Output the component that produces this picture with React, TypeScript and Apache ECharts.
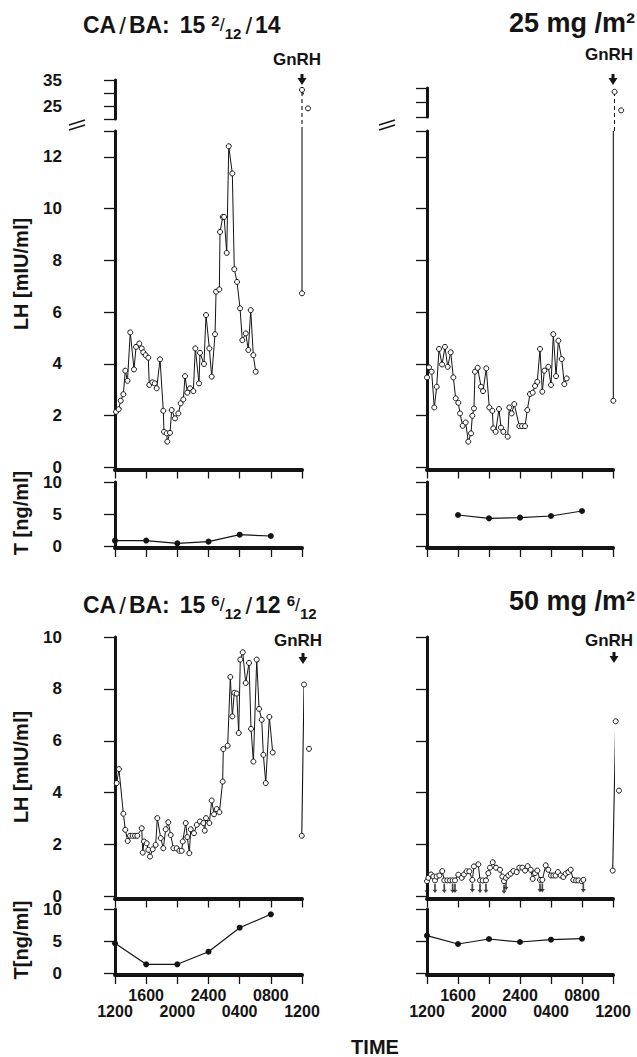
import React, { useEffect, useRef } from "react";
import * as echarts from "echarts";

const FONT = "'Liberation Sans', Arial, Helvetica, sans-serif";
const INK = "#141414";

// x axis value = hours after 1200 (clock time)
const X_TICK_LABELS = ["1200", "1600", "2000", "2400", "0400", "0800", "1200"];
const TL_UPPER_TICK_LABELS = [25, 35];

// ---------- top-left: CA/BA 15 2/12 / 14 ----------
const TL_LH_TIME = [0.13, 0.47, 0.73, 1.07, 1.32, 1.6, 1.96, 2.44, 2.7, 3.12, 3.43, 3.63, 3.94, 4.27, 4.4, 4.79, 5.1, 5.35, 5.78, 6.2, 6.29, 6.64, 6.71, 7.06, 7.28, 7.7, 8.13, 8.43, 8.77, 8.99, 9.28, 9.63, 10.05, 10.31, 10.78, 10.91, 11.42, 11.68, 12.11, 12.41, 12.84, 12.97, 13.39, 13.48, 13.83, 14.0, 14.34, 14.6, 15.06, 15.31, 15.66, 16.05, 16.34, 16.78, 17.11, 17.42, 17.75, 18.06];
const TL_LH = [2.15, 2.25, 2.58, 2.83, 3.74, 3.35, 5.22, 3.79, 4.66, 4.79, 4.6, 4.45, 4.34, 4.24, 3.19, 3.29, 3.25, 3.06, 4.18, 2.19, 1.38, 1.32, 1.0, 1.34, 2.22, 1.9, 2.09, 2.48, 2.63, 3.53, 2.89, 3.06, 2.95, 4.6, 3.25, 4.43, 4.0, 5.89, 4.6, 3.51, 5.15, 6.79, 6.88, 9.1, 9.68, 9.68, 8.29, 12.41, 11.36, 7.66, 7.17, 6.15, 4.92, 5.18, 4.54, 6.08, 4.34, 3.7];
const TL_GNRH_LOW: number[][] = [[24.0, 6.73]];
const TL_GNRH_HIGH: number[][] = [[24.0, 31.2], [24.77, 24.1]];
const T_TIME = [0, 4, 8, 12, 16, 20];
const TL_T = [0.83, 0.85, 0.42, 0.68, 1.77, 1.56];

// ---------- top-right: 25 mg/m2 ----------
const TR_LH_TIME = [0, 0.26, 0.6, 0.94, 1.25, 1.55, 1.94, 2.32, 2.67, 3.06, 3.4, 3.7, 4.04, 4.26, 4.6, 4.99, 5.33, 5.68, 5.85, 6.06, 6.19, 6.54, 6.97, 7.23, 7.65, 8.04, 8.43, 8.55, 8.86, 9.29, 9.55, 9.85, 10.41, 10.62, 10.93, 11.26, 11.91, 12.26, 12.65, 12.94, 13.29, 13.64, 13.94, 14.23, 14.58, 14.88, 15.14, 15.65, 16.0, 16.3, 16.65, 16.95, 17.38, 17.72, 18.03];
const TR_LH = [3.48, 3.87, 3.7, 2.32, 3.12, 4.58, 3.98, 4.66, 3.89, 4.45, 3.48, 2.67, 2.5, 2.09, 1.61, 1.74, 1.0, 1.32, 2.0, 2.28, 3.7, 3.85, 3.12, 2.95, 3.83, 2.32, 2.19, 1.51, 1.38, 2.26, 1.54, 1.38, 1.19, 2.32, 2.09, 2.45, 1.6, 1.6, 1.6, 2.22, 2.84, 2.89, 3.15, 3.31, 4.58, 2.93, 3.74, 3.89, 3.19, 5.15, 3.53, 4.9, 4.19, 3.22, 3.44];
const TR_GNRH_LOW: number[][] = [[24.04, 2.58]];
const TR_GNRH_HIGH: number[][] = [[24.2, 28.7], [25.05, 22.3]];
const TR_T_TIME = [4, 8, 12, 16, 20];
const TR_T = [4.84, 4.32, 4.43, 4.69, 5.47];

// ---------- bottom-left: CA/BA 15 6/12 / 12 6/12 ----------
const BL_LH_TIME = [0.22, 0.51, 1.07, 1.32, 1.63, 1.93, 2.27, 2.57, 2.86, 3.43, 3.56, 3.72, 4.07, 4.28, 4.49, 4.84, 5.22, 5.43, 5.87, 6.2, 6.51, 6.84, 7.15, 7.49, 7.92, 8.26, 8.56, 8.69, 9.08, 9.28, 9.54, 9.72, 10.14, 10.49, 10.91, 11.34, 11.52, 11.68, 12.11, 12.41, 12.71, 13.05, 13.4, 13.82, 13.9, 14.46, 14.8, 15.06, 15.31, 15.62, 15.88, 16.08, 16.39, 16.78, 17.2, 17.46, 17.76, 18.19, 18.49, 18.83, 19.04, 19.35, 19.81, 20.24];
const BL_LH = [4.37, 4.91, 3.19, 2.57, 2.14, 2.34, 2.34, 2.34, 2.34, 2.63, 1.69, 2.12, 2.05, 1.8, 1.54, 1.82, 1.99, 3.02, 2.25, 1.86, 2.59, 2.86, 2.37, 1.86, 1.86, 1.76, 1.76, 2.12, 2.83, 2.29, 1.67, 2.59, 2.44, 2.76, 2.89, 2.83, 2.54, 3.02, 2.83, 3.7, 3.17, 3.37, 3.25, 4.43, 5.68, 5.81, 8.46, 6.94, 7.85, 7.82, 6.3, 9.13, 9.41, 8.23, 9.0, 6.46, 5.2, 9.13, 7.23, 6.81, 5.46, 4.37, 6.92, 5.55];
const BL_GNRH: number[][] = [[23.97, 2.34], [24.26, 8.17], [24.9, 5.69]];
const BL_T = [4.64, 1.36, 1.36, 3.33, 7.08, 9.17];

// ---------- bottom-right: 50 mg/m2 ----------
const BR_LH_TIME = [0, 0.17, 0.52, 0.81, 1.03, 1.25, 1.59, 1.97, 2.23, 2.62, 2.97, 3.31, 3.61, 4.04, 4.48, 4.77, 5.12, 5.46, 5.85, 6.06, 6.62, 6.84, 7.19, 7.61, 7.91, 8.13, 8.48, 8.9, 9.42, 9.72, 9.94, 10.19, 10.49, 10.8, 11.14, 11.57, 11.91, 12.3, 12.65, 12.99, 13.38, 13.64, 13.94, 14.23, 14.58, 14.88, 15.32, 15.65, 16.0, 16.3, 16.6, 16.9, 17.25, 17.59, 17.9, 18.23, 18.54, 18.88, 19.23, 19.53, 19.97, 20.17];
const BR_LH = [0.59, 0.72, 0.85, 0.77, 0.62, 0.77, 0.81, 0.98, 0.62, 0.62, 0.62, 0.62, 0.62, 0.84, 0.72, 0.85, 0.97, 0.97, 0.64, 1.16, 1.24, 0.62, 0.62, 0.62, 0.9, 1.11, 1.32, 1.11, 1.03, 0.77, 0.59, 0.72, 0.81, 0.88, 0.98, 0.94, 1.11, 1.11, 1.0, 1.17, 1.03, 0.68, 0.9, 1.0, 0.64, 0.64, 1.2, 1.03, 0.81, 0.81, 0.81, 0.94, 0.81, 0.75, 0.88, 0.94, 1.03, 0.64, 0.62, 0.62, 0.59, 0.64];
const BR_UNDETECTABLE_TIME = [0, 1.03, 2.23, 3.31, 3.61, 5.85, 6.84, 7.61, 9.94, 10.19, 14.58, 14.88, 20.17];
const BR_GNRH: number[][] = [[23.96, 1.0], [24.35, 6.75], [24.77, 4.08]];
const BR_T = [5.83, 4.53, 5.31, 4.84, 5.2, 5.36];

const zip = (ts: number[], vs: number[]) => ts.map((t, i) => [t, vs[i]]);

// layout
const LX = { left: 115, width: 187, yOff: 38 };
const RX = { left: 427, width: 186, yOff: 40 };
const GRIDS = [
  { ...LX, top: 80, height: 39 }, // 0 TL LH upper (broken)
  { ...LX, top: 131, height: 336.5 }, // 1 TL LH
  { ...LX, top: 482, height: 64 }, // 2 TL T
  { ...RX, top: 88, height: 29 }, // 3 TR LH upper
  { ...RX, top: 131, height: 336.5 }, // 4 TR LH
  { ...RX, top: 482, height: 64 }, // 5 TR T
  { ...LX, top: 637, height: 259.5 }, // 6 BL LH
  { ...LX, top: 909, height: 64 }, // 7 BL T
  { ...RX, top: 637, height: 259.5 }, // 8 BR LH
  { ...RX, top: 909, height: 64 }, // 9 BR T
];
const UPPER = [
  { min: 20, max: 35 },
  { min: 20, max: 30 },
];

const labelFont = { fontSize: 16, fontWeight: "bold", fontFamily: FONT, color: INK };

function xAxis(gi: number, visible: boolean, row: 0 | 1 | 2) {
  // row 0: no labels; row 2: lower label row (1200, 2000, 0400, 1200)
  return {
    type: "value",
    gridIndex: gi,
    position: "bottom",
    min: 0,
    max: 24,
    interval: 4,
    show: visible,
    offset: 2,
    axisLine: { show: true, onZero: false, lineStyle: { color: INK, width: 4 } },
    axisTick: { show: true, length: 9, lineStyle: { color: INK, width: 1.3 } },
    splitLine: { show: false },
    axisLabel:
      row === 2
        ? {
            show: true,
            showMinLabel: true,
            showMaxLabel: true,
            formatter: (v: number) => {
              const i = Math.round(v / 4);
              return i % 2 === 0 ? "\n" + (X_TICK_LABELS[i] ?? "") : "";
            },
            lineHeight: 16,
            margin: 12,
            ...labelFont,
          }
        : { show: false },
  };
}

// upper label row (1600, 2400, 0800) on a label-only axis sharing the T grid
function xLabelAxis(gi: number) {
  return {
    type: "value",
    gridIndex: gi,
    position: "bottom",
    min: 0,
    max: 24,
    interval: 4,
    offset: 2,
    axisLine: { show: false, onZero: false },
    axisTick: { show: false },
    splitLine: { show: false },
    axisLabel: {
      show: true,
      showMinLabel: true,
      showMaxLabel: true,
      formatter: (v: number) => {
        const i = Math.round(v / 4);
        return i % 2 === 1 ? X_TICK_LABELS[i] ?? "" : "";
      },
      lineHeight: 16,
      margin: 12,
      ...labelFont,
    },
  };
}

function yAxis(gi: number, min: number, max: number, interval: number, offset: number, fmt: ((v: number) => string) | null) {
  return {
    type: "value",
    gridIndex: gi,
    min,
    max,
    interval,
    offset,
    axisLine: { show: true, lineStyle: { color: INK, width: 3 } },
    axisTick: { show: true, length: 11, lineStyle: { color: INK, width: 1.3 } },
    splitLine: { show: false },
    axisLabel: fmt
      ? {
          show: true,
          formatter: fmt,
          fontSize: 17,
          lineHeight: 12,
          fontWeight: "bold",
          fontFamily: FONT,
          color: INK,
          margin: 15,
        }
      : { show: false },
  };
}

const lhStyle = {
  type: "line",
  symbol: "circle",
  symbolSize: 5,
  itemStyle: { color: "#fff", borderColor: INK, borderWidth: 1 },
  lineStyle: { color: INK, width: 1 },
  clip: false,
  z: 3,
};
const tStyle = {
  type: "line",
  symbol: "circle",
  symbolSize: 6,
  itemStyle: { color: INK },
  lineStyle: { color: INK, width: 1.2 },
  clip: false,
  z: 3,
};

function arrow(x: number, y0: number) {
  return {
    type: "polygon",
    shape: {
      points: [
        [x - 1.5, y0],
        [x + 1.5, y0],
        [x + 1.5, y0 + 4],
        [x + 4.5, y0 + 4],
        [x, y0 + 11],
        [x - 4.5, y0 + 4],
        [x - 1.5, y0 + 4],
      ],
    },
    style: { fill: INK },
  };
}

function txt(text: string, x: number, y: number, size: number, align = "center", rotation = 0) {
  return {
    type: "text",
    x,
    y,
    rotation,
    style: {
      text,
      x: 0,
      y: 0,
      align,
      verticalAlign: "middle",
      fill: INK,
      font: `bold ${size}px ${FONT}`,
    },
  };
}

const RICH = {
  a: { fontSize: 23, fontWeight: "bold", fontFamily: FONT, fill: INK, lineHeight: 32 },
  g: { fontSize: 23, fontWeight: "bold", fontFamily: FONT, fill: INK, lineHeight: 32, padding: [0, 0, 0, 10] },
  n: { fontSize: 24, fontWeight: "normal", fontFamily: FONT, fill: INK, lineHeight: 24, padding: [0, 3, 0, 3] },
  s: { fontSize: 15, fontWeight: "bold", fontFamily: FONT, fill: INK, lineHeight: 15, verticalAlign: "top", padding: [4, 0, 0, 6] },
  f: { fontSize: 18, fontWeight: "normal", fontFamily: FONT, fill: INK, lineHeight: 18, padding: [0, 0, 0, 0] },
  b: { fontSize: 15, fontWeight: "bold", fontFamily: FONT, fill: INK, lineHeight: 15, verticalAlign: "bottom", padding: [0, 1, 0, 0] },
};

function caba(x: number, y: number, parts: string) {
  return {
    type: "text",
    x,
    y,
    style: { text: parts, x: 0, y: 0, align: "left", verticalAlign: "middle", fill: INK, rich: RICH },
  };
}

function breakMarks(x: number, y: number) {
  const l = (dy: number) => ({
    type: "line",
    shape: { x1: x - 8, y1: y + dy + 3, x2: x + 8, y2: y + dy - 2 },
    style: { stroke: INK, lineWidth: 1.6 },
  });
  return [l(0), l(5)];
}

export default function App() {
  const ref = useRef<HTMLDivElement>(null);
  useEffect(() => {
    if (!ref.current) return;
    const chart = echarts.init(ref.current, null, { renderer: "svg" });

    // value at which the dashed GnRH line in the upper (broken) segment meets the lower segment top
    const bridge = (gi: number, u: { min: number; max: number }, lowerGi: number) => {
      const g = GRIDS[gi];
      const gap = GRIDS[lowerGi].top - (g.top + g.height);
      return u.min - (gap / g.height) * (u.max - u.min);
    };

    const xAxes: any[] = GRIDS.map((_, gi) => {
      if (gi === 0 || gi === 3) return xAxis(gi, false, 0);
      return xAxis(gi, true, gi === 7 || gi === 9 ? 2 : 0);
    });
    xAxes.push(xLabelAxis(7), xLabelAxis(9));

    const yAxes = [
      yAxis(0, UPPER[0].min, UPPER[0].max, 5, LX.yOff, (v) => (TL_UPPER_TICK_LABELS.includes(v) ? String(v) : "")),
      yAxis(1, 0, 13, 2, LX.yOff, (v) => (v % 2 === 0 ? String(v) : "")),
      yAxis(2, 0, 10, 5, LX.yOff, (v) => String(v)),
      yAxis(3, UPPER[1].min, UPPER[1].max, 5, RX.yOff, null),
      yAxis(4, 0, 13, 2, RX.yOff, null),
      yAxis(5, 0, 10, 5, RX.yOff, null),
      yAxis(6, 0, 10, 2, LX.yOff, (v) => String(v)),
      yAxis(7, 0, 10, 5, LX.yOff, (v) => String(v)),
      yAxis(8, 0, 10, 2, RX.yOff, null),
      yAxis(9, 0, 10, 5, RX.yOff, null),
    ];

    const dashedUpper = (gi: number, high: number[][], u: { min: number; max: number }, lowerGi: number) => ({
      ...lhStyle,
      xAxisIndex: gi,
      yAxisIndex: gi,
      lineStyle: { color: INK, width: 1.1, type: [4, 3] },
      data: [{ value: [high[0][0], bridge(gi, u, lowerGi)], symbol: "none" }, ...high],
    });
    const lowerToTop = (gi: number, low: number[][], top: number) => ({
      ...lhStyle,
      xAxisIndex: gi,
      yAxisIndex: gi,
      lineStyle: { color: INK, width: 1.1 },
      data: [...low, { value: [low[0][0], top], symbol: "none" }],
    });

    const brVal = (t: number) => BR_LH[BR_LH_TIME.indexOf(t)];

    const series: any[] = [
      dashedUpper(0, TL_GNRH_HIGH, UPPER[0], 1),
      { ...lhStyle, xAxisIndex: 1, yAxisIndex: 1, data: zip(TL_LH_TIME, TL_LH) },
      lowerToTop(1, TL_GNRH_LOW, 13),
      { ...tStyle, xAxisIndex: 2, yAxisIndex: 2, data: zip(T_TIME, TL_T) },

      dashedUpper(3, TR_GNRH_HIGH, UPPER[1], 4),
      { ...lhStyle, xAxisIndex: 4, yAxisIndex: 4, data: zip(TR_LH_TIME, TR_LH) },
      lowerToTop(4, TR_GNRH_LOW, 13),
      { ...tStyle, xAxisIndex: 5, yAxisIndex: 5, data: zip(TR_T_TIME, TR_T) },

      { ...lhStyle, xAxisIndex: 6, yAxisIndex: 6, data: zip(BL_LH_TIME, BL_LH) },
      { ...lhStyle, xAxisIndex: 6, yAxisIndex: 6, lineStyle: { color: INK, width: 1.1 }, data: BL_GNRH },
      { ...tStyle, xAxisIndex: 7, yAxisIndex: 7, data: zip(T_TIME, BL_T) },

      {
        type: "scatter",
        xAxisIndex: 8,
        yAxisIndex: 8,
        symbol: "path://M-1,0 L1,0 L1,7 L3,7 L0,11 L-3,7 L-1,7 Z",
        symbolSize: [5, 9],
        symbolOffset: [0, 8],
        itemStyle: { color: INK },
        z: 2,
        data: BR_UNDETECTABLE_TIME.map((t) => [t, brVal(t)]),
      },
      { ...lhStyle, xAxisIndex: 8, yAxisIndex: 8, data: zip(BR_LH_TIME, BR_LH) },
      { ...lhStyle, xAxisIndex: 8, yAxisIndex: 8, lineStyle: { color: INK, width: 1.1 }, data: BR_GNRH },
      { ...tStyle, xAxisIndex: 9, yAxisIndex: 9, data: zip(T_TIME, BR_T) },
    ];

    const graphic: any[] = [
      caba(83, 25, "{a|CA}{n|/}{a|BA:}{g|15}{s|2}{f|/}{b|12}{n|/}{a|14}"),
      txt("25 mg /m²", 635, 23, 27, "right"),
      caba(83, 605, "{a|CA}{n|/}{a|BA:}{g|15}{s|6}{f|/}{b|12}{n|/}{a|12}{s|6}{f|/}{b|12}"),
      txt("50 mg /m²", 635, 601, 27, "right"),
      txt("GnRH", 297, 59, 17),
      txt("GnRH", 609, 54, 17),
      txt("GnRH", 298, 640, 17),
      txt("GnRH", 609, 640, 17),
      arrow(302, 74),
      arrow(613, 74),
      arrow(303, 653),
      arrow(614, 652),
      txt("LH [mIU/ml]", 21, 274, 20, "center", Math.PI / 2),
      txt("T [ng/ml]", 21, 513, 20, "center", Math.PI / 2),
      txt("LH [mIU/ml]", 21, 767, 20, "center", Math.PI / 2),
      txt("T[ng/ml]", 21, 940, 20, "center", Math.PI / 2),
      txt("TIME", 375, 1047, 20),
      ...breakMarks(LX.left - LX.yOff, 122),
      ...breakMarks(RX.left - RX.yOff, 122),
    ];

    chart.setOption({
      animation: false,
      backgroundColor: "#fff",
      textStyle: { fontFamily: FONT },
      grid: GRIDS.map((g) => ({ left: g.left, top: g.top, width: g.width, height: g.height })),
      xAxis: xAxes,
      yAxis: yAxes,
      series,
      graphic,
    });
    return () => chart.dispose();
  }, []);
  return (
    <div
      ref={ref}
      style={{ position: "absolute", left: 0, top: 0, width: 637, height: 1057, background: "#fff" }}
    />
  );
}
